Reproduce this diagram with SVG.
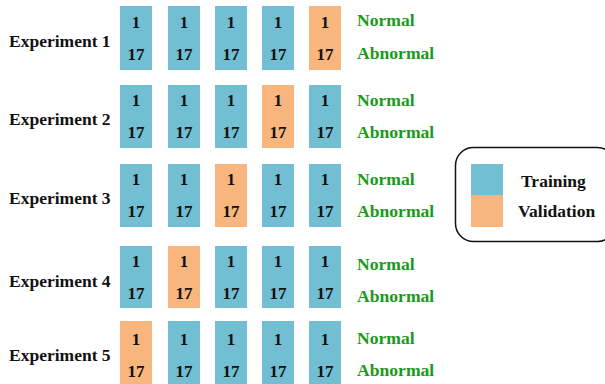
<svg xmlns="http://www.w3.org/2000/svg" width="605" height="384" viewBox="0 0 605 384">
<style>
.t{fill:#72BFD3}
.v{fill:#F8B57D}
.num{font-family:"Liberation Serif","Times New Roman",serif;font-weight:bold;font-size:17px;fill:#111;text-anchor:middle}
.lab{font-family:"Liberation Serif","Times New Roman",serif;font-weight:bold;font-size:17.5px;fill:#111}
.cls{font-family:"Liberation Serif","Times New Roman",serif;font-weight:bold;font-size:17.6px;fill:#1a9a1a}
</style>
<defs>
<g id="cell">
<text class="num" x="16" y="28">1</text>
<text class="num" x="16" y="60">17</text>
</g>
</defs>
<rect width="605" height="384" fill="#fff"/>
<g id="exp1">
<text class="lab" x="9" y="47">Experiment 1</text>
<rect class="t" x="120" y="6" width="32" height="64"/><use href="#cell" x="120" y="0"/>
<rect class="t" x="168" y="6" width="32" height="64"/><use href="#cell" x="168" y="0"/>
<rect class="t" x="215" y="6" width="32" height="64"/><use href="#cell" x="215" y="0"/>
<rect class="t" x="262" y="6" width="32" height="64"/><use href="#cell" x="262" y="0"/>
<rect class="v" x="309" y="6" width="32" height="64"/><use href="#cell" x="309" y="0"/>
<text class="cls" x="357" y="26">Normal</text>
<text class="cls" x="357" y="59">Abnormal</text>
</g>
<g id="exp2">
<text class="lab" x="9" y="125">Experiment 2</text>
<rect class="t" x="120" y="85" width="32" height="63"/><use href="#cell" x="120" y="78"/>
<rect class="t" x="168" y="85" width="32" height="63"/><use href="#cell" x="168" y="78"/>
<rect class="t" x="215" y="85" width="32" height="63"/><use href="#cell" x="215" y="78"/>
<rect class="v" x="262" y="85" width="32" height="63"/><use href="#cell" x="262" y="78"/>
<rect class="t" x="309" y="85" width="32" height="63"/><use href="#cell" x="309" y="78"/>
<text class="cls" x="357" y="106">Normal</text>
<text class="cls" x="357" y="138">Abnormal</text>
</g>
<g id="exp3">
<text class="lab" x="9" y="204">Experiment 3</text>
<rect class="t" x="120" y="164" width="32" height="63"/><use href="#cell" x="120" y="157"/>
<rect class="t" x="168" y="164" width="32" height="63"/><use href="#cell" x="168" y="157"/>
<rect class="v" x="215" y="164" width="32" height="63"/><use href="#cell" x="215" y="157"/>
<rect class="t" x="262" y="164" width="32" height="63"/><use href="#cell" x="262" y="157"/>
<rect class="t" x="309" y="164" width="32" height="63"/><use href="#cell" x="309" y="157"/>
<text class="cls" x="357" y="185">Normal</text>
<text class="cls" x="357" y="217">Abnormal</text>
</g>
<g id="exp4">
<text class="lab" x="9" y="287">Experiment 4</text>
<rect class="t" x="120" y="246" width="32" height="62"/><use href="#cell" x="120" y="239"/>
<rect class="v" x="168" y="246" width="32" height="62"/><use href="#cell" x="168" y="239"/>
<rect class="t" x="215" y="246" width="32" height="62"/><use href="#cell" x="215" y="239"/>
<rect class="t" x="262" y="246" width="32" height="62"/><use href="#cell" x="262" y="239"/>
<rect class="t" x="309" y="246" width="32" height="62"/><use href="#cell" x="309" y="239"/>
<text class="cls" x="357" y="270">Normal</text>
<text class="cls" x="357" y="302">Abnormal</text>
</g>
<g id="exp5">
<text class="lab" x="9" y="361">Experiment 5</text>
<rect class="v" x="120" y="321" width="32" height="63"/><use href="#cell" x="120" y="317"/>
<rect class="t" x="168" y="321" width="32" height="63"/><use href="#cell" x="168" y="317"/>
<rect class="t" x="215" y="321" width="32" height="63"/><use href="#cell" x="215" y="317"/>
<rect class="t" x="262" y="321" width="32" height="63"/><use href="#cell" x="262" y="317"/>
<rect class="t" x="309" y="321" width="32" height="63"/><use href="#cell" x="309" y="317"/>
<text class="cls" x="357" y="344">Normal</text>
<text class="cls" x="357" y="376">Abnormal</text>
</g>
<g id="legend">
<rect x="455.5" y="147.5" width="160" height="94" rx="18" fill="#fff" stroke="#111" stroke-width="1.5"/>
<rect class="t" x="471" y="164" width="32" height="31"/>
<rect class="v" x="471" y="195" width="32" height="32"/>
<text class="lab" x="521" y="187">Training</text>
<text class="lab" x="518" y="217">Validation</text>
</g>
<g id="connectors"/>
</svg>
